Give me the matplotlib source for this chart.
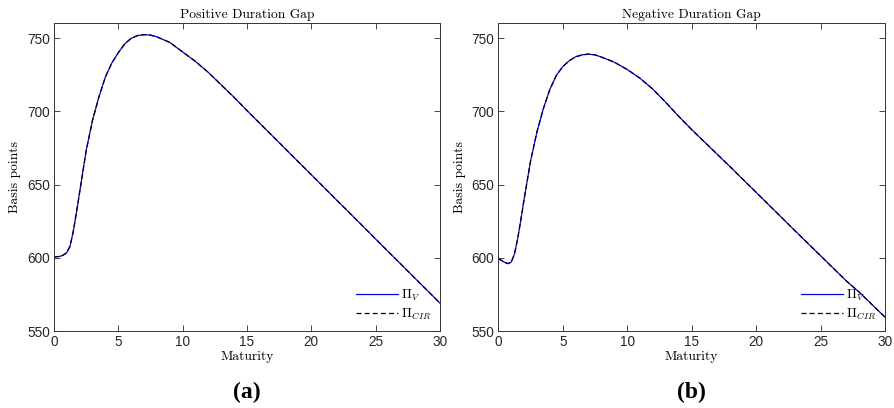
import numpy as np
import matplotlib
matplotlib.use('Agg')
import matplotlib.pyplot as plt

plt.rcParams['mathtext.fontset'] = 'cm'
plt.rcParams['font.family'] = ['Liberation Sans', 'DejaVu Sans']

# maturity grid (years)
maturity = [0, 0.5, 0.75, 1, 1.25, 1.5, 1.75, 2, 2.5, 3, 3.5, 4, 4.5, 5, 5.5, 6, 6.5, 7,
            7.5, 8, 9, 10, 11, 12, 13, 14, 15, 16, 17, 18, 19, 20, 21, 22, 23, 24, 25,
            26, 27, 28, 29, 30]

# positive duration gap (basis points)
pos_v = [600.5, 601, 602, 603.5, 608, 618, 631, 645, 673, 694, 710, 723.5, 733, 740, 746,
         749.8, 751.7, 752.3, 752, 750.8, 747, 740.5, 734, 726.5, 718, 709.5, 700.5,
         691.7, 683, 674.2, 665.4, 656.7, 647.9, 639.1, 630.4, 621.6, 612.8, 604, 595.3,
         586.5, 577.8, 569]
pos_cir = list(pos_v)

# negative duration gap (basis points)
neg_v = [599.5, 596.8, 596, 597, 602.5, 613, 626, 640, 666, 686, 702, 715, 724.5, 730.5,
         734.5, 737.2, 738.5, 739, 738.5, 737, 733.5, 728.5, 722.5, 715, 706, 696.5,
         687.5, 679, 670.5, 662, 653.3, 644.7, 636, 627.3, 618.6, 610, 601.4, 592.8,
         584.2, 576.5, 568, 559.5]
neg_cir = list(neg_v)

titles = ['Positive Duration Gap', 'Negative Duration Gap']
panel_tags = ['(a)', '(b)']

fig = plt.figure(figsize=(8.95, 4.08), dpi=100)
ax1 = fig.add_axes([0.0603, 0.1887, 0.4313, 0.754])
ax2 = fig.add_axes([0.5568, 0.1887, 0.4320, 0.754])

serif = 'cmr10'
for ax, yv, yc, title, tag in [(ax1, pos_v, pos_cir, titles[0], panel_tags[0]),
                               (ax2, neg_v, neg_cir, titles[1], panel_tags[1])]:
    ax.plot(maturity, yv, color='#0000ff', lw=0.9, label=r'$\Pi_V$')
    ax.plot(maturity, yc, color='black', lw=0.9, ls=(0, (4, 2.5)), label=r'$\Pi_{CIR}$')
    ax.set_xlim(0, 30)
    ax.set_ylim(550, 760)
    ax.set_xticks([0, 5, 10, 15, 20, 25, 30])
    ax.set_yticks([550, 600, 650, 700, 750])
    ax.tick_params(direction='in', top=True, right=True, length=4, width=0.6,
                   labelsize=9.8, colors='#262626', pad=3)
    for s in ax.spines.values():
        s.set_color('#333333')
        s.set_linewidth(0.7)
    ax.set_title(title, fontname=serif, fontsize=9.7, pad=4)
    ax.set_xlabel('Maturity', fontname=serif, fontsize=9.7, labelpad=1)
    ax.set_ylabel('Basis points', fontname=serif, fontsize=9.7, labelpad=4)
    ax.legend(loc='lower right', frameon=False, fontsize=9.5, handlelength=3.2,
              handletextpad=0.2, labelspacing=0.3, borderaxespad=0.3)
    ax.text(0.5, -0.2, tag, transform=ax.transAxes, ha='center', va='center',
            fontsize=17, fontweight='bold', family='Liberation Serif')

plt.savefig('out.png', dpi=100)
